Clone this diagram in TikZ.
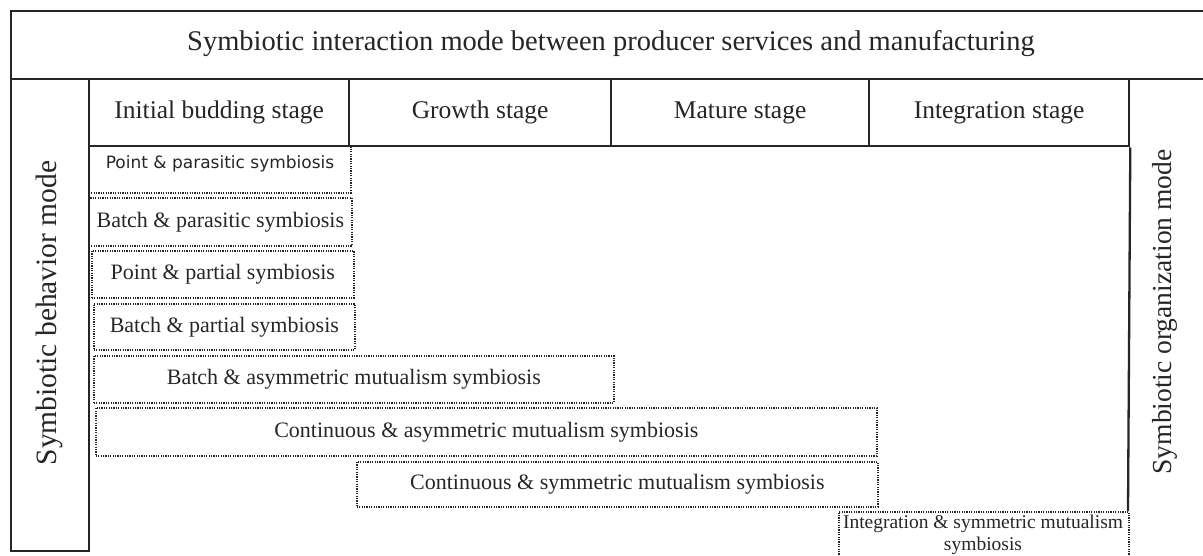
\documentclass[tikz,border=0pt]{standalone}
\usepackage{fontspec}
\setmainfont{Liberation Serif}
\newfontfamily\boxsans{DejaVu Sans}
\begin{document}
\begin{tikzpicture}[x=1pt,y=-1pt,
  frame/.style={draw=black!85, line width=2.3pt, inner sep=0pt, anchor=north west},
  dotbox/.style={draw=black!85, line width=1.7pt, dash pattern=on 1.2pt off 1.2pt, inner sep=0pt, anchor=north west},
  hdr/.style={font=\fontsize{25.5}{30}\selectfont, text=black!85},
  boxtxt/.style={font=\fontsize{22}{24}\selectfont, text=black!85},
  sidetxt/.style={rotate=90, font=\fontsize{29.5}{32}\selectfont, text=black!85},
]
\useasboundingbox (0,0) rectangle (1203,556);
% title row
\node[frame, minimum width=1200pt, minimum height=68pt] (title) at (10,10) {};
\node[font=\fontsize{28.5}{32}\selectfont, text=black!85] (titletxt) at (611,44) {Symbiotic interaction mode between producer services and manufacturing};
% left column
\node[frame, minimum width=78pt, minimum height=472pt] (leftcol) at (10,78) {};
\node[sidetxt] (lefttxt) at (49,313) {Symbiotic behavior mode};
% stage headers
\node[frame, minimum width=260pt, minimum height=67pt, hdr] (s1) at (88,78) {Initial budding stage};
\node[frame, minimum width=262pt, minimum height=67pt, hdr] (s2) at (348,78) {Growth stage};
\node[frame, minimum width=258pt, minimum height=67pt, hdr] (s3) at (610,78) {Mature stage};
\node[frame, minimum width=260pt, minimum height=67pt, hdr] (s4) at (868,78) {Integration stage};
% right column
\coordinate (rcb) at (1128,511);
\draw[draw=black!85, line width=2.3pt] (s4.south east) -- (rcb);
\node[sidetxt, font=\fontsize{27.5}{32}\selectfont] (righttxt) at (1165,312) {Symbiotic organization mode};
% dotted boxes
\node[dotbox, minimum width=262pt, minimum height=47pt] (b1) at (88,145) {};
\node[font=\boxsans\fontsize{17}{20}\selectfont, text=black!85] (b1txt) at (220,164) {Point \& parasitic symbiosis};
\node[dotbox, boxtxt, minimum width=263pt, minimum height=48pt] (b2) at (88,197) {Batch \& parasitic symbiosis};
\node[dotbox, boxtxt, minimum width=262pt, minimum height=47pt] (b3) at (91,250) {Point \& partial symbiosis};
\node[dotbox, boxtxt, minimum width=261pt, minimum height=46pt] (b4) at (93,303) {Batch \& partial symbiosis};
\node[dotbox, boxtxt, minimum width=520pt, minimum height=47pt] (b5) at (93,355) {Batch \& asymmetric mutualism symbiosis};
\node[dotbox, boxtxt, minimum width=781pt, minimum height=48pt] (b6) at (95,407) {Continuous \& asymmetric mutualism symbiosis};
\node[dotbox, boxtxt, minimum width=521pt, minimum height=45pt] (b7) at (356,461) {Continuous \& symmetric mutualism symbiosis};
\node[dotbox, minimum width=290pt, minimum height=48pt] (b8) at (838,511) {};
\node[align=center, font=\fontsize{19.5}{22}\selectfont, text=black!85, anchor=north] (b8txt) at (983,511) {Integration \& symmetric mutualism\\symbiosis};
\end{tikzpicture}
\end{document}
